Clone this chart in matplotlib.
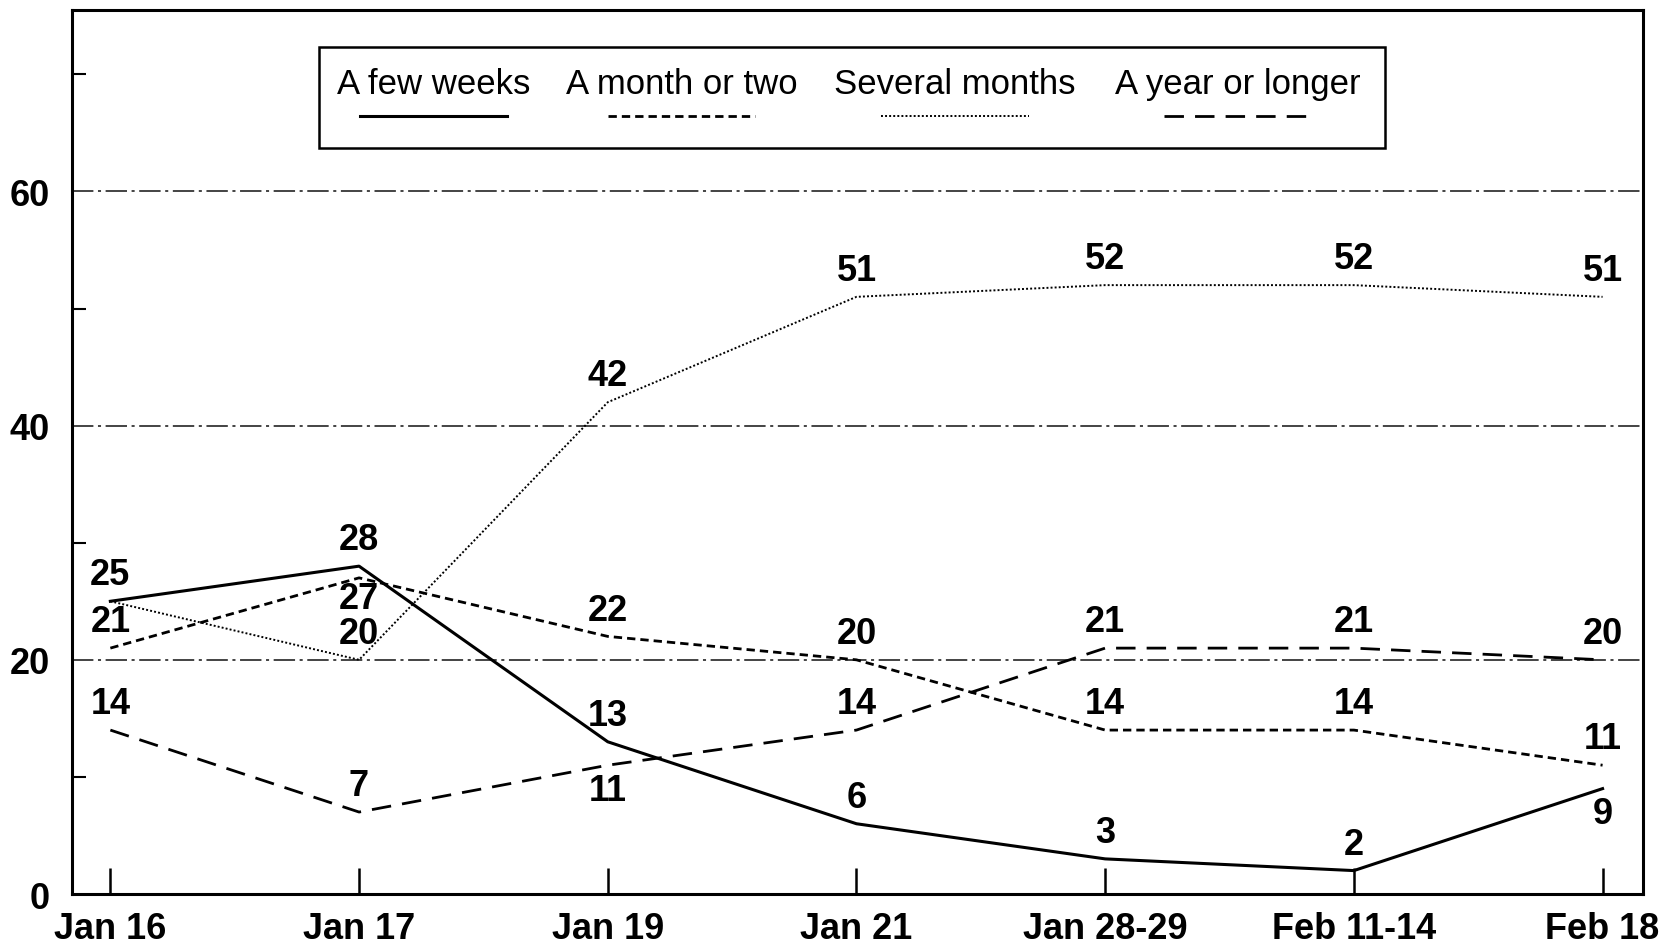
import matplotlib
matplotlib.use("Agg")
import matplotlib.pyplot as plt
from matplotlib.lines import Line2D
from matplotlib.patches import Rectangle

plt.rcParams['font.family'] = ['Liberation Sans', 'DejaVu Sans']

dates = ["Jan 16", "Jan 17", "Jan 19", "Jan 21", "Jan 28-29", "Feb 11-14", "Feb 18"]
few_weeks = [25, 28, 13, 6, 3, 2, 9]
month_or_two = [21, 27, 22, 20, 14, 14, 11]
several_months = [25, 20, 42, 51, 52, 52, 51]
year_or_longer = [14, 7, 11, 14, 21, 21, 20]
names = ["A few weeks", "A month or two", "Several months", "A year or longer"]
series = [few_weeks, month_or_two, several_months, year_or_longer]

# labels that sit under their point instead of above it
below = {(1, 1), (3, 2), (0, 6)}

styles = [
    dict(ls='-', lw=2.2),
    dict(ls=(0, (3, 1.8)), lw=2.0),
    dict(ls=(0, (1, 1.1)), lw=1.4),
    dict(ls=(0, (7, 4)), lw=2.0),
]

fig = plt.figure(figsize=(16.64, 9.45), dpi=100)
ax = fig.add_axes([0.0433, 0.0529, 0.944, 0.9355])

x = list(range(len(dates)))
done = set()
for i, (vals, st) in enumerate(zip(series, styles)):
    ax.plot(x, vals, color='black', **st)
    for j, v in enumerate(vals):
        if (j, v) in done:
            continue
        done.add((j, v))
        dy = -18 if (i, j) in below else 19
        if (i, j) == (1, 1):
            dy = -15
        ax.annotate(str(v), (j, v), xytext=(0, dy), textcoords='offset points',
                    ha='center', va='center', fontsize=26, fontweight='bold')

# dash-dot gridlines
for g in [20, 40, 60]:
    ax.axhline(g, color='#111111', lw=1.1, ls=(0, (14, 3, 2, 3)), zorder=0)

ax.set_xlim(-0.154, 6.162)
ax.set_ylim(0, 75.5)
ax.set_xticks(x)
ax.set_xticklabels(dates, fontsize=26, fontweight='bold')
ax.tick_params(axis='x', direction='in', length=19, width=1.8, pad=12)
ax.set_yticks([0, 20, 40, 60])
ax.set_yticklabels(["0", "20", "40", "60"], fontsize=26, fontweight='bold')
ax.set_yticks([10, 30, 50, 70], minor=True)
ax.tick_params(axis='y', which='major', length=0, pad=16)
ax.tick_params(axis='y', which='minor', direction='in', length=10, width=1.5)
for s in ax.spines.values():
    s.set_linewidth(2.2)

# legend: text on top, line sample under it
ax.add_patch(Rectangle((0.157, 0.844), 0.679, 0.114, transform=ax.transAxes,
                       fill=False, ec='black', lw=1.8, zorder=5))
centers = [0.230, 0.388, 0.562, 0.742]
for c, name, st in zip(centers, names, styles):
    ax.text(c, 0.917, name, transform=ax.transAxes, ha='center', va='center',
            fontsize=25)
    ax.add_line(Line2D([c - 0.047, c + 0.047], [0.880, 0.880], transform=ax.transAxes,
                       color='black', **st))

fig.savefig("out.png", dpi=100)
